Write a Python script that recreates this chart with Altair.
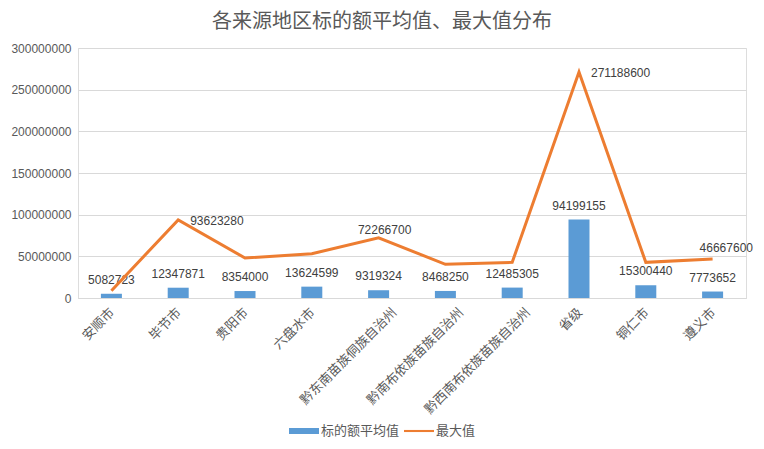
import altair as alt
import pandas as pd

categories = ["安顺市", "毕节市", "贵阳市", "六盘水市", "黔东南苗族侗族自治州",
              "黔南布依族苗族自治州", "黔西南布依族苗族自治州", "省级", "铜仁市", "遵义市"]
avg_vals = [5082723, 12347871, 8354000, 13624599, 9319324, 8468250, 12485305, 94199155, 15300440, 7773652]
max_vals = [8800000, 93623280, 48000000, 53000000, 72266700, 40400000, 42800000, 271188600, 42800000, 46667600]
labels_right = ["毕节市", "省级"]
labels_center = ["黔东南苗族侗族自治州"]
labels_upright = ["遵义市"]
series_names = ["标的额平均值", "最大值"]
y_ticks = [0, 50000000, 100000000, 150000000, 200000000, 250000000, 300000000]

df = pd.DataFrame({"cat": categories, "avg": avg_vals, "max": max_vals})

FONT = "Liberation Sans, Noto Sans CJK SC"
GRAY = "#595959"
BLUE = "#5B9BD5"
ORANGE = "#ED7D31"

color_scale = alt.Scale(domain=series_names, range=[BLUE, ORANGE])
shape_scale = alt.Scale(domain=series_names,
                        range=["M-1,-0.2H1V0.2H-1Z", "M-1,-0.07H1V0.07H-1Z"])
legend = alt.Legend(
    title=None, orient="none", direction="horizontal", legendX=211, legendY=368,
    symbolSize=900, labelFontSize=13, labelColor=GRAY, labelFont=FONT,
    symbolOpacity=1, symbolStrokeWidth=0, labelOffset=2, columnPadding=4)

x_enc = alt.X("cat:N", sort=categories, title=None,
              scale=alt.Scale(paddingInner=0.69, paddingOuter=0.345),
              axis=alt.Axis(labelAngle=-45, labelAlign="right", labelBaseline="middle",
                            labelPadding=12, ticks=False, domainColor="#D9D9D9",
                            labelOffset={"condition": {"test": "length(datum.label) > 6", "value": 16},
                                         "value": 1},
                            labelFontSize=13, labelColor=GRAY, labelFont=FONT, grid=False))
y_enc = alt.Y("avg:Q", title=None, scale=alt.Scale(domain=[0, 300000000]),
              axis=alt.Axis(values=y_ticks, format="d", domain=False, ticks=False,
                            gridColor="#D9D9D9", labelFontSize=12, labelColor=GRAY,
                            labelFont=FONT, labelPadding=7))

base = alt.Chart(df)

bars = base.mark_bar(size=21, color=BLUE).encode(x=x_enc, y=y_enc)

bar_text = base.mark_text(dy=-14, baseline="middle", fontSize=12, color="#404040", font=FONT).encode(
    x=alt.X("cat:N", sort=categories), y=alt.Y("avg:Q"), text=alt.Text("avg:Q", format="d"))

line = base.mark_line(strokeWidth=3, color=ORANGE).encode(
    x=alt.X("cat:N", sort=categories), y=alt.Y("max:Q"))

legend_pts = base.transform_calculate(series="datum.max > datum.avg * 100 ? '最大值' : '标的额平均值'").mark_point(
    filled=True, opacity=0).encode(
    x=alt.X("cat:N", sort=categories), y=alt.Y("avg:Q"),
    color=alt.Color("series:N", scale=color_scale, legend=legend),
    shape=alt.Shape("series:N", scale=shape_scale, legend=legend))

def max_label(cats, **kw):
    return base.transform_filter(alt.FieldOneOfPredicate(field="cat", oneOf=cats)).mark_text(
        baseline="middle", fontSize=12, color="#404040", font=FONT, **kw).encode(
        x=alt.X("cat:N", sort=categories), y=alt.Y("max:Q"), text=alt.Text("max:Q", format="d"))

text_right = max_label(labels_right, align="left", dx=12, dy=1)
text_center = max_label(labels_center, align="center", dx=6, dy=-8)
text_upright = max_label(labels_upright, align="left", dx=-13, dy=-11)

chart = alt.layer(bars, bar_text, line, legend_pts, text_right, text_center, text_upright).properties(
    width=668, height=250,
    autosize=alt.AutoSizeParams(type="none"),
    padding={"left": 70, "top": 40, "right": 10, "bottom": 143},
    title=alt.TitleParams("各来源地区标的额平均值、最大值分布", fontSize=20, fontWeight="normal",
                          color=GRAY, font=FONT, anchor="middle", dx=-30, offset=10),
).configure_view(stroke=None).configure(font=FONT)

chart.save("out.html", embed_options={"renderer": "svg", "actions": False})
